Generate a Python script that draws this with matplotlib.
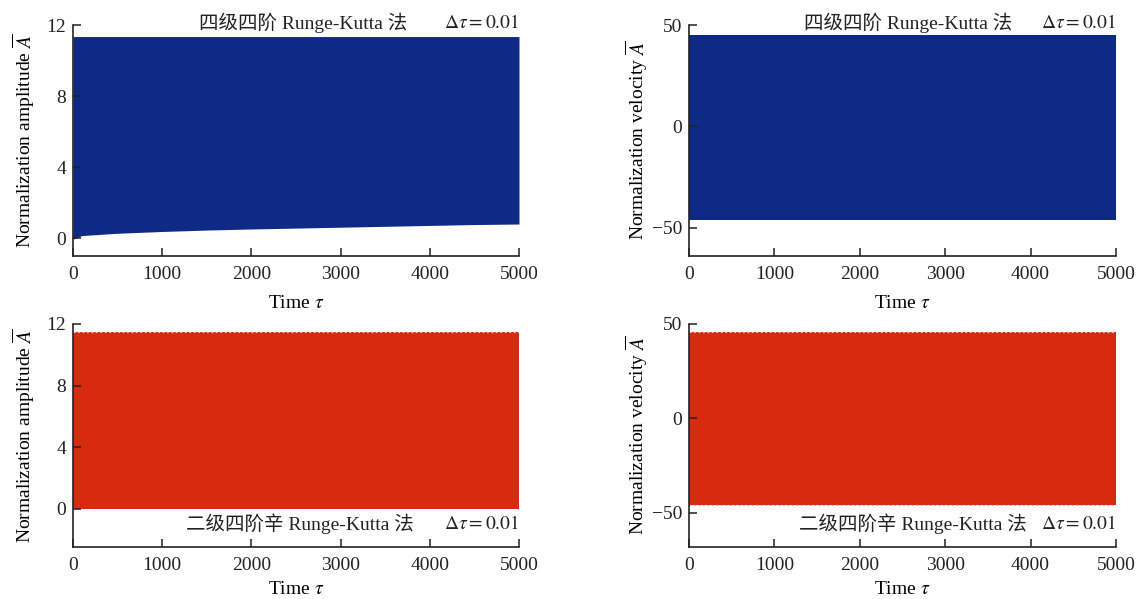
import matplotlib
matplotlib.use("Agg")
import matplotlib.pyplot as plt
import numpy as np

# ---- data (envelopes of the dense oscillation) ----
tau_rk4 = [0, 50, 100, 500, 1000, 1500, 2000, 2500, 3000, 3500, 4000, 4500, 5000]
amp_rk4_upper = [11.35, 11.35, 11.35, 11.35, 11.35, 11.35, 11.35, 11.35, 11.35, 11.35, 11.35, 11.35, 11.35]
amp_rk4_lower = [-0.05, 0.05, 0.15, 0.28, 0.38, 0.46, 0.52, 0.57, 0.62, 0.67, 0.72, 0.77, 0.8]
vel_rk4_upper = [45, 45, 45, 45, 45, 45, 45, 45, 45, 45, 45, 45, 45]
vel_rk4_lower = [-46, -46, -46, -46, -46, -46, -46, -46, -46, -46, -46, -46, -46]

tau_srk = [0, 1000, 2000, 3000, 4000, 5000]
amp_srk_upper = [11.45, 11.45, 11.45, 11.45, 11.45, 11.45]
amp_srk_lower = [0.0, 0.0, 0.0, 0.0, 0.0, 0.0]
vel_srk_upper = [45.8, 45.8, 45.8, 45.8, 45.8, 45.8]
vel_srk_lower = [-45.8, -45.8, -45.8, -45.8, -45.8, -45.8]

x_ticks = [0, 1000, 2000, 3000, 4000, 5000]
amp_ticks = [0, 4, 8, 12]
vel_ticks = [-50, 0, 50]

label_rk4 = "四级四阶 Runge-Kutta 法"
label_srk = "二级四阶辛 Runge-Kutta 法"
label_dt = r"$\Delta\tau = 0.01$"

BLUE = "#0E2A86"
RED = "#D72B0F"

plt.rcParams["font.family"] = ["Liberation Serif", "Noto Sans CJK SC"]
plt.rcParams["mathtext.fontset"] = "stix"
plt.rcParams["font.size"] = 14

fig = plt.figure(figsize=(11.45, 5.99), dpi=100)

def px_axes(l, t, r, b):
    W, H = 1145, 599
    return fig.add_axes([l / W, 1 - b / H, (r - l) / W, (b - t) / H])

ax_tl = px_axes(73, 25, 519, 256)
ax_tr = px_axes(689, 25, 1116, 256)
ax_bl = px_axes(73, 324, 519, 547)
ax_br = px_axes(689, 324, 1116, 547)

def style(ax, yt, ylim, ylabel, ypad, xpad):
    ax.set_xlim(0, 5000)
    ax.set_ylim(*ylim)
    ax.set_xticks(x_ticks)
    ax.set_yticks(yt)
    for s in ("top", "right"):
        ax.spines[s].set_visible(False)
    for s in ("left", "bottom"):
        ax.spines[s].set_linewidth(1.2)
        ax.spines[s].set_color("#222222")
    ax.tick_params(direction="in", length=6, width=1.1, labelsize=14, colors="#222222")
    ax.tick_params(axis="x", pad=7)
    ax.tick_params(axis="y", pad=5)
    ax.set_xlabel(r"Time $\tau$", fontsize=14, labelpad=xpad)
    ax.set_ylabel(ylabel, fontsize=14, labelpad=ypad)

amp_label = r"Normalization amplitude $\overline{A}$"
vel_label = r"Normalization velocity $\overline{A}$"

ax_tl.fill_between(tau_rk4, amp_rk4_lower, amp_rk4_upper, color=BLUE, lw=0)
style(ax_tl, amp_ticks, (-1.0, 12), amp_label, 7, 9)
ax_tr.fill_between(tau_rk4, vel_rk4_lower, vel_rk4_upper, color=BLUE, lw=0)
style(ax_tr, vel_ticks, (-64, 50), vel_label, 1, 9)

ax_bl.fill_between(tau_srk, amp_srk_lower, amp_srk_upper, color=RED, lw=0)
ax_bl.plot(tau_srk, amp_srk_upper, color="#F3B0A4", lw=0.8, ls=(0, (2, 2)))
style(ax_bl, amp_ticks, (-2.5, 12), amp_label, 7, 5)
ax_br.fill_between(tau_srk, vel_srk_lower, vel_srk_upper, color=RED, lw=0)
ax_br.plot(tau_srk, vel_srk_upper, color="#F3B0A4", lw=0.8, ls=(0, (2, 2)))
ax_br.plot(tau_srk, vel_srk_lower, color="#F3B0A4", lw=0.8, ls=(0, (2, 2)))
style(ax_br, vel_ticks, (-68, 50), vel_label, 1, 5)

# annotations
for ax, cx in ((ax_tl, 0.516), (ax_tr, 0.513)):
    ax.text(cx, 1.01, label_rk4, transform=ax.transAxes, ha="center", va="center",
            fontsize=14, color="#222222")
    ax.text(1.0, 1.01, label_dt, transform=ax.transAxes, ha="right", va="center",
            fontsize=14, color="#222222")
for ax, cx in ((ax_bl, 0.508), (ax_br, 0.525)):
    ax.text(cx, 0.105, label_srk, transform=ax.transAxes, ha="center", va="center",
            fontsize=14, color="#222222")
    ax.text(1.0, 0.105, label_dt, transform=ax.transAxes, ha="right", va="center",
            fontsize=14, color="#222222")

fig.savefig("out.png", dpi=100)
